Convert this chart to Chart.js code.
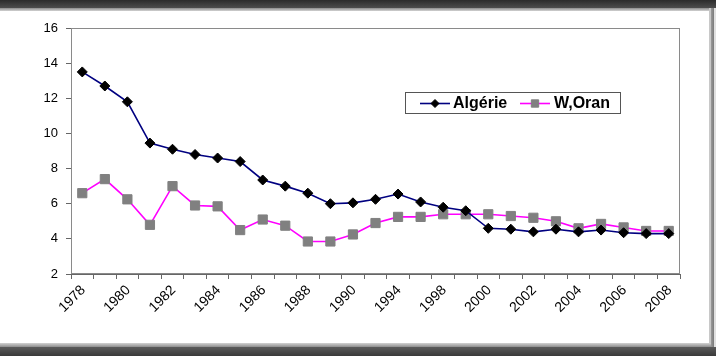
<!DOCTYPE html>
<html>
<head>
<meta charset="utf-8">
<script src="https://cdn.jsdelivr.net/npm/chart.js@4.4.1/dist/chart.umd.min.js"></script>
<style>
    body { margin: 0; background: #fff; }
    #wrap { position: relative; width: 716px; height: 356px; overflow: hidden; background: #fff; }
    #wrap canvas { position: absolute; left: 0; top: 0; }
    .edge { position: absolute; }
</style>
</head>
<body>
<div id="wrap">
    <canvas id="lineChart" width="716" height="356"></canvas>
    <!-- window frame -->
    <div class="edge" style="left:0;top:0;width:716px;height:8px;background:linear-gradient(#2b2b2b,#4d4d4d);"></div>
    <div class="edge" style="left:0;top:8px;width:712px;height:3px;background:linear-gradient(#8c8c8c,#d2d2d2);"></div>
    <div class="edge" style="left:709px;top:8px;width:2px;height:339px;background:#c8c8c8;"></div>
    <div class="edge" style="left:711px;top:8px;width:3px;height:339px;background:linear-gradient(90deg,#9a9a9a,#7a7a7a);"></div>
    <div class="edge" style="left:714px;top:8px;width:2px;height:339px;background:#e0e0e0;"></div>
    <div class="edge" style="left:0;top:343px;width:711px;height:4px;background:linear-gradient(#d2d2d2,#8c8c8c);"></div>
    <div class="edge" style="left:0;top:347px;width:716px;height:9px;background:linear-gradient(#5a5a5a,#3a3a3a);"></div>
</div>
<script>
document.addEventListener('DOMContentLoaded', function() {
    const ctx = document.getElementById('lineChart').getContext('2d');

    // Data
    const years = ['1978', '1979', '1980', '1981', '1982', '1983', '1984', '1985', '1986',
        '1987', '1988', '1989', '1990', '1992', '1994', '1996', '1998', '1999', '2000',
        '2001', '2002', '2003', '2004', '2005', '2006', '2007', '2008'];
    const algerie = [13.5, 12.7, 11.8, 9.45, 9.1, 8.8, 8.6, 8.4, 7.35, 7.0, 6.6, 6.0, 6.05,
        6.25, 6.55, 6.1, 5.8, 5.6, 4.6, 4.55, 4.4, 4.55, 4.4, 4.5, 4.35, 4.3, 4.3];
    const oran = [6.6, 7.4, 6.25, 4.8, 7.0, 5.9, 5.85, 4.5, 5.1, 4.75, 3.85, 3.85, 4.25,
        4.9, 5.25, 5.25, 5.4, 5.4, 5.4, 5.3, 5.2, 5.0, 4.6, 4.85, 4.65, 4.45, 4.45];
    const seriesNames = ['Algérie', 'W,Oran'];
    const yMin = 2;
    const yMax = 16;
    const yStep = 2;

    const fontFamily = "'Liberation Sans', Arial, sans-serif";

    // Grey border round the plot area
    const plotFrame = {
        id: 'plotFrame',
        beforeDatasetsDraw(chart) {
            const a = chart.chartArea;
            const c = chart.ctx;
            c.save();
            c.strokeStyle = '#8a8a8a';
            c.lineWidth = 1;
            c.strokeRect(Math.round(a.left) + 0.5, Math.round(a.top) + 0.5,
                Math.round(a.width) - 1, Math.round(a.height) - 1);
            c.restore();
        }
    };

    // Boxed legend inside the plot, like the spreadsheet one
    const boxLegend = {
        id: 'boxLegend',
        afterDatasetsDraw(chart) {
            const c = chart.ctx;
            const slots = [{ x0: 420, x1: 450, tx: 453 }, { x0: 520, x1: 550, tx: 554 }];
            const yMid = 103.5;
            c.save();
            c.fillStyle = '#fff';
            c.fillRect(405, 92, 216, 22);
            c.strokeStyle = '#555';
            c.lineWidth = 1;
            c.strokeRect(405.5, 92.5, 215, 21);
            chart.data.datasets.forEach(function(ds, i) {
                const s = slots[i];
                c.strokeStyle = ds.borderColor;
                c.lineWidth = ds.borderWidth;
                c.beginPath();
                c.moveTo(s.x0, yMid);
                c.lineTo(s.x1, yMid);
                c.stroke();
                c.fillStyle = ds.pointBackgroundColor;
                c.strokeStyle = ds.pointBorderColor;
                c.lineWidth = 1;
                Chart.helpers.drawPoint(c, {
                    pointStyle: ds.pointStyle,
                    radius: ds.pointRadius * 0.8,
                    rotation: 0,
                    borderWidth: 1
                }, (s.x0 + s.x1) / 2, yMid);
                c.fillStyle = '#000';
                c.font = 'bold 16px ' + fontFamily;
                c.textBaseline = 'middle';
                c.textAlign = 'left';
                c.fillText(ds.label, s.tx, yMid + 0.5);
            });
            c.restore();
        }
    };

    new Chart(ctx, {
        type: 'line',
        data: {
            labels: years,
            datasets: [{
                label: seriesNames[0],
                data: algerie,
                borderColor: '#000080',
                borderWidth: 1.6,
                pointStyle: 'rectRot',
                pointRadius: 5,
                pointBackgroundColor: '#000000',
                pointBorderColor: '#000000',
                pointBorderWidth: 1,
                tension: 0
            }, {
                label: seriesNames[1],
                data: oran,
                borderColor: '#FF00FF',
                borderWidth: 1.6,
                pointStyle: 'rect',
                pointRadius: 6.5,
                pointBackgroundColor: '#808080',
                pointBorderColor: '#808080',
                pointBorderWidth: 1,
                tension: 0
            }]
        },
        options: {
            responsive: false,
            animation: false,
            events: [],
            layout: {
                padding: { left: 0, top: 28, right: 36, bottom: 0 }
            },
            plugins: {
                legend: { display: false },
                tooltip: { enabled: false }
            },
            scales: {
                x: {
                    offset: true,
                    grid: {
                        offset: true,
                        drawOnChartArea: false,
                        drawTicks: true,
                        tickLength: 5,
                        color: '#666'
                    },
                    border: { display: true, color: '#666', width: 1 },
                    ticks: {
                        autoSkip: false,
                        minRotation: 45,
                        maxRotation: 45,
                        padding: 3,
                        labelOffset: 1,
                        color: '#000',
                        font: { family: fontFamily, size: 14 },
                        callback: function(val, index) {
                            return index % 2 === 0 ? this.getLabelForValue(val) : '';
                        }
                    },
                    afterFit: function(scale) { scale.height = 82; }
                },
                y: {
                    min: yMin,
                    max: yMax,
                    grid: {
                        drawOnChartArea: false,
                        drawTicks: true,
                        tickLength: 5,
                        color: '#666'
                    },
                    border: { display: true, color: '#666', width: 1 },
                    ticks: {
                        stepSize: yStep,
                        padding: 8,
                        color: '#000',
                        font: { family: fontFamily, size: 13 }
                    },
                    afterFit: function(scale) { scale.width = 71; }
                }
            }
        },
        plugins: [plotFrame, boxLegend]
    });
});
</script>
</body>
</html>
